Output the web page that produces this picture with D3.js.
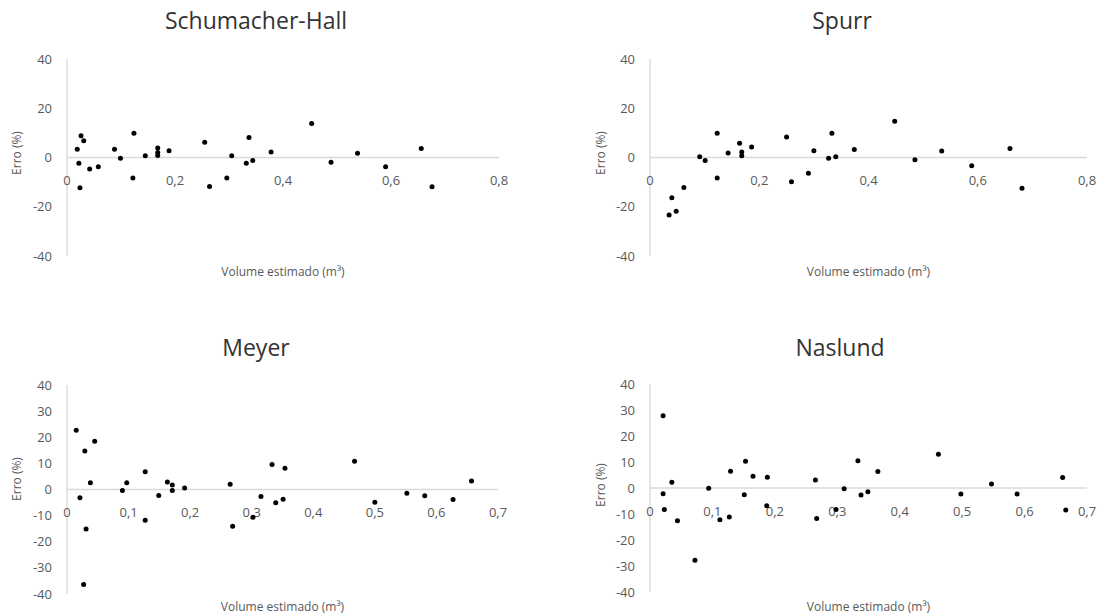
<!DOCTYPE html>
<html>
<head>
<meta charset="utf-8">
<script src="https://cdn.jsdelivr.net/npm/d3@7"></script>
<style>
  html, body { margin: 0; padding: 0; background: #ffffff; }
  svg { display: block; font-family: "Open Sans", "Liberation Sans", sans-serif; }
</style>
</head>
<body>
<svg id="chart" width="1107" height="616"></svg>
<script>
// ---- Data (volume estimado m³, erro %) ----
const titles = ["Schumacher-Hall", "Spurr", "Meyer", "Naslund"];
const xAxisTitle = "Volume estimado (m³)";
const yAxisTitle = "Erro (%)";

const schumacherHall = [
  [0.019, 3.3], [0.026, 8.8], [0.031, 6.8], [0.022, -2.3], [0.024, -12.3],
  [0.042, -4.7], [0.058, -3.8], [0.088, 3.3], [0.099, -0.3], [0.124, 9.8],
  [0.122, -8.3], [0.145, 0.7], [0.168, 3.9], [0.168, 2.0], [0.168, 0.8],
  [0.189, 2.7], [0.255, 6.2], [0.264, -11.8], [0.296, -8.3], [0.305, 0.7],
  [0.332, -2.3], [0.337, 8.1], [0.344, -1.2], [0.378, 2.2], [0.453, 13.8],
  [0.489, -1.9], [0.538, 1.7], [0.590, -3.8], [0.656, 3.7], [0.676, -11.9]
];
const spurr = [
  [0.035, -23.3], [0.040, -16.3], [0.048, -21.8], [0.062, -12.2], [0.091, 0.3],
  [0.101, -1.2], [0.123, 9.8], [0.123, -8.3], [0.143, 1.8], [0.164, 5.8],
  [0.168, 2.2], [0.168, 0.7], [0.186, 4.3], [0.250, 8.3], [0.259, -9.8],
  [0.290, -6.4], [0.300, 2.7], [0.327, -0.3], [0.333, 9.8], [0.340, 0.3],
  [0.374, 3.2], [0.448, 14.7], [0.485, -0.9], [0.534, 2.6], [0.589, -3.4],
  [0.659, 3.7], [0.681, -12.5]
];
const meyer = [
  [0.015, 22.7], [0.021, -3.2], [0.029, 14.7], [0.027, -36.4], [0.031, -15.1],
  [0.038, 2.6], [0.045, 18.5], [0.090, -0.4], [0.097, 2.6], [0.127, 6.8],
  [0.127, -11.8], [0.149, -2.3], [0.163, 2.9], [0.171, 1.7], [0.171, -0.4],
  [0.191, 0.6], [0.265, 2.0], [0.269, -14.1], [0.302, -10.6], [0.315, -2.7],
  [0.333, 9.6], [0.339, -5.1], [0.351, -3.7], [0.354, 8.1], [0.467, 10.8],
  [0.500, -4.9], [0.552, -1.4], [0.581, -2.4], [0.627, -3.8], [0.657, 3.3]
];
const naslund = [
  [0.021, 27.8], [0.021, -2.2], [0.023, -8.3], [0.035, 2.2], [0.044, -12.6],
  [0.072, -27.8], [0.094, -0.1], [0.112, -12.2], [0.127, -11.2], [0.129, 6.4],
  [0.151, -2.6], [0.153, 10.3], [0.165, 4.5], [0.187, -6.8], [0.188, 4.1],
  [0.265, 3.1], [0.267, -11.7], [0.298, -8.3], [0.311, -0.3], [0.333, 10.5],
  [0.338, -2.7], [0.349, -1.4], [0.365, 6.3], [0.462, 13.0], [0.498, -2.3],
  [0.547, 1.5], [0.588, -2.3], [0.661, 4.0], [0.666, -8.5]
];
const series = [schumacherHall, spurr, meyer, naslund];

const xTicksTop = [0, 0.2, 0.4, 0.6, 0.8];
const xTicksBottom = [0, 0.1, 0.2, 0.3, 0.4, 0.5, 0.6, 0.7];
const yTicksTop = [-40, -20, 0, 20, 40];
const yTicksBottom = [-40, -30, -20, -10, 0, 10, 20, 30, 40];

// ---- Layout ----
const panels = [
  { x0: 67,  x1: 499,  yTop: 59,  yBot: 256, xMax: 0.8, xTicks: xTicksTop,    yTicks: yTicksTop,
    titleX: 256, titleY: 29, xTitleY: 276, yTitleX: 17,  yTitleY: 153 },
  { x0: 650, x1: 1087, yTop: 59,  yBot: 256, xMax: 0.8, xTicks: xTicksTop,    yTicks: yTicksTop,
    titleX: 842, titleY: 29, xTitleY: 276, yTitleX: 601, yTitleY: 153 },
  { x0: 67,  x1: 498,  yTop: 385, yBot: 594, xMax: 0.7, xTicks: xTicksBottom, yTicks: yTicksBottom,
    titleX: 256, titleY: 356, xTitleY: 611, yTitleX: 17,  yTitleY: 479 },
  { x0: 650, x1: 1087, yTop: 384, yBot: 592, xMax: 0.7, xTicks: xTicksBottom, yTicks: yTicksBottom,
    titleX: 840, titleY: 356, xTitleY: 611, yTitleX: 601, yTitleY: 485 }
];

const fmt = v => (v === 0 ? "0" : d3.format(".1f")(v).replace(".", ","));
const svg = d3.select("#chart");

panels.forEach((p, i) => {
  const x = d3.scaleLinear().domain([0, p.xMax]).range([p.x0, p.x1]);
  const y = d3.scaleLinear().domain([-40, 40]).range([p.yBot, p.yTop]);
  const g = svg.append("g");

  // y axis line
  g.append("line")
    .attr("x1", x(0)).attr("x2", x(0))
    .attr("y1", y(40)).attr("y2", y(-40))
    .attr("stroke", "#d9d9d9").attr("stroke-width", 1.3);
  // x axis line at 0
  g.append("line")
    .attr("x1", x(0)).attr("x2", x(p.xMax))
    .attr("y1", y(0)).attr("y2", y(0))
    .attr("stroke", "#d9d9d9").attr("stroke-width", 1.3);

  // y tick labels
  g.selectAll("text.yt").data(p.yTicks).enter().append("text")
    .attr("class", "yt")
    .attr("x", x(0) - 15)
    .attr("y", d => y(d))
    .attr("dy", "0.35em")
    .attr("text-anchor", "end")
    .attr("font-size", 13)
    .attr("fill", "#595959")
    .text(d => d);

  // x tick labels (below the zero line)
  g.selectAll("text.xt").data(p.xTicks).enter().append("text")
    .attr("class", "xt")
    .attr("x", d => x(d))
    .attr("y", y(0) + 23)
    .attr("dy", "0.35em")
    .attr("text-anchor", "middle")
    .attr("font-size", 13)
    .attr("fill", "#595959")
    .text(d => fmt(d));

  // points
  g.selectAll("circle").data(series[i]).enter().append("circle")
    .attr("cx", d => x(d[0]))
    .attr("cy", d => y(d[1]))
    .attr("r", 2.5)
    .attr("fill", "#000000");

  // title
  g.append("text")
    .attr("x", p.titleX).attr("y", p.titleY)
    .attr("text-anchor", "middle")
    .attr("font-size", 23)
    .attr("fill", "#333333")
    .text(titles[i]);

  // x axis title
  g.append("text")
    .attr("x", (p.x0 + p.x1) / 2).attr("y", p.xTitleY)
    .attr("text-anchor", "middle")
    .attr("font-size", 12)
    .attr("fill", "#595959")
    .text(xAxisTitle);

  // y axis title
  g.append("text")
    .attr("transform", `translate(${p.yTitleX + 4},${p.yTitleY}) rotate(-90)`)
    .attr("text-anchor", "middle")
    .attr("font-size", 12)
    .attr("fill", "#595959")
    .text(yAxisTitle);
});
</script>
</body>
</html>
